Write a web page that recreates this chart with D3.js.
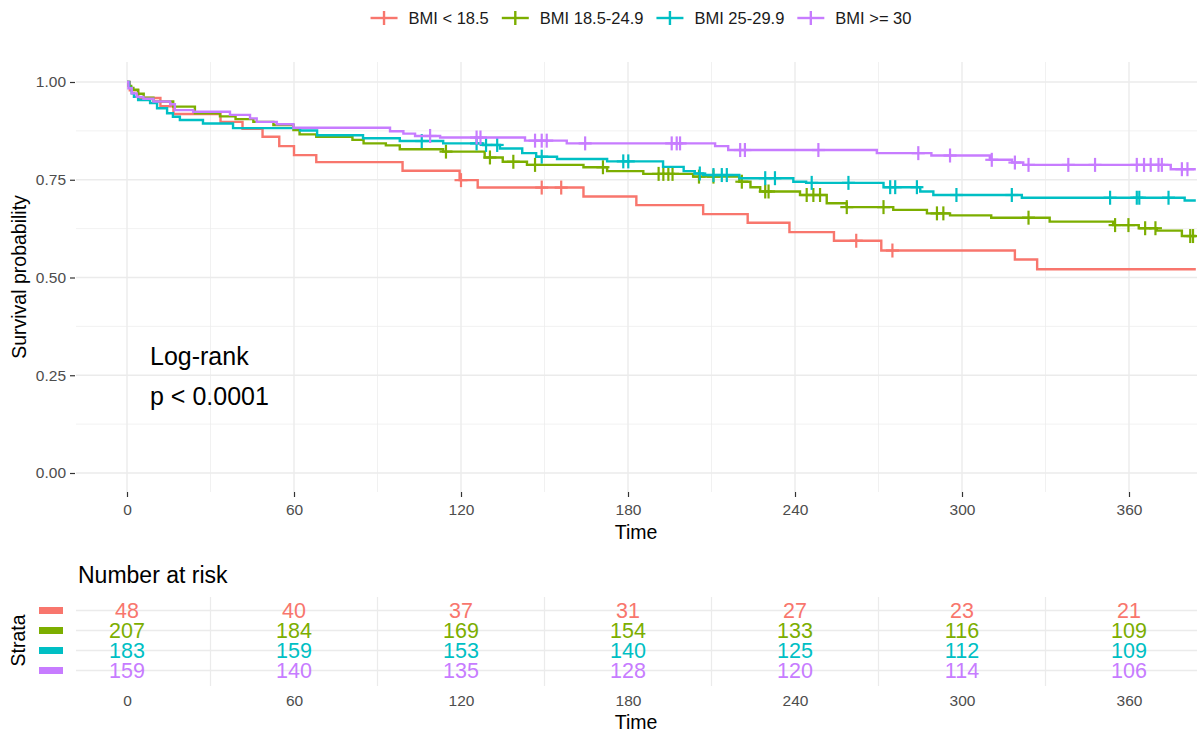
<!DOCTYPE html>
<html>
<head>
<meta charset="utf-8">
<script src="https://cdn.jsdelivr.net/npm/d3@7"></script>
<style>
  body { margin: 0; background: #fff; }
  svg text { font-family: "Liberation Sans", Arial, sans-serif; }
</style>
</head>
<body>
<div class="km"></div>
<script>
// strata and colours
const strata = ["BMI < 18.5", "BMI 18.5-24.9", "BMI 25-29.9", "BMI >= 30"];
const colors = ["#F8766D", "#7CAE00", "#00BFC4", "#C77CFF"];
const lastTime = 384;

// survival steps [time, survival after the step]
const redSteps = [[0,1],[1,0.979],[4,0.959],[12,0.938],[16.7,0.918],[33.6,0.898],[41.5,0.880],[48.7,0.860],[54.7,0.836],[60,0.813],[68,0.795],[99,0.773],[119.5,0.749],[126,0.730],[164,0.707],[183,0.685],[207,0.662],[223,0.640],[238,0.616],[254,0.594],[271,0.569],[319,0.546],[327,0.521]];
const greenSteps = [[0,1],[0.5,0.99],[1.5,0.985],[2.3,0.980],[4,0.97],[6,0.96],[9.5,0.950],[16.6,0.937],[24.4,0.920],[33.4,0.912],[39,0.905],[45.4,0.898],[52.6,0.890],[59.8,0.877],[62,0.866],[68,0.860],[81,0.852],[85,0.843],[93,0.838],[98,0.828],[113.6,0.822],[128.5,0.807],[135,0.796],[143.7,0.788],[164,0.782],[172.5,0.772],[185.5,0.765],[203.4,0.758],[220,0.745],[224,0.731],[227.5,0.720],[241.8,0.711],[251.4,0.690],[258.6,0.680],[275.3,0.673],[287.4,0.664],[295.7,0.659],[310.5,0.653],[331.5,0.643],[354.3,0.634],[363.5,0.626],[370,0.620],[379,0.606]];
const cyanSteps = [[0,1],[0.8,0.985],[1.7,0.971],[2.5,0.962],[4,0.954],[8.3,0.946],[10.8,0.933],[14.4,0.920],[16.5,0.911],[19,0.903],[27.3,0.894],[38.1,0.882],[62.2,0.876],[68.3,0.864],[84.8,0.856],[98,0.849],[113.6,0.843],[128,0.839],[134,0.830],[142,0.818],[147,0.809],[154.5,0.803],[172.5,0.797],[192.6,0.783],[200,0.772],[204,0.766],[207,0.762],[220,0.754],[239.4,0.745],[244,0.742],[271.8,0.731],[285,0.720],[289.7,0.711],[321.5,0.704],[380,0.697]];
const purpleSteps = [[0,1],[0.5,0.984],[1.7,0.971],[3.5,0.962],[5.9,0.957],[9.5,0.950],[15.5,0.943],[17.2,0.928],[23.8,0.924],[37,0.916],[44.2,0.907],[46.6,0.898],[53.8,0.892],[59.8,0.883],[94.5,0.874],[99.3,0.868],[103.5,0.862],[112.5,0.858],[143,0.850],[158,0.843],[211.3,0.836],[216,0.826],[269.4,0.818],[289,0.812],[310,0.801],[318,0.794],[322,0.788],[375,0.777]];

// censoring times
const redCensor = [120, 149, 156, 262, 275];
const greenCensor = [114.6, 130.4, 138.8, 146.6, 171, 191, 192.7, 194.5, 196, 205.5, 210.7, 220.9, 229.3, 230.5, 244.2, 246.6, 249, 258.6, 271.8, 291, 293.3, 323.9, 355, 359.8, 365.8, 369.5, 382, 383];
const cyanCensor = [105.9, 125.6, 129, 133, 149, 178.3, 180.1, 205.8, 210.7, 213.7, 215.5, 229.3, 232.8, 246, 259.2, 274.2, 276, 283.8, 298, 317.9, 353.2, 362.8, 363.7, 374.2];
const purpleCensor = [108.9, 125.6, 127, 146.6, 149, 150.8, 164.6, 195.7, 197.5, 198.7, 220.3, 222, 248.4, 284.3, 295.7, 310.7, 319, 323.9, 338.2, 347.8, 362.8, 365.4, 367.8, 370.6, 371.8, 379, 381];

// ticks and number at risk
const timeTicks = [0, 60, 120, 180, 240, 300, 360];
const survTicks = [0, 0.25, 0.5, 0.75, 1];
const riskRed = [48, 40, 37, 31, 27, 23, 21];
const riskGreen = [207, 184, 169, 154, 133, 116, 109];
const riskCyan = [183, 159, 153, 140, 125, 112, 109];
const riskPurple = [159, 140, 135, 128, 120, 114, 106];

const curves = [
  { name: strata[0], color: colors[0], steps: redSteps, censor: redCensor, risk: riskRed },
  { name: strata[1], color: colors[1], steps: greenSteps, censor: greenCensor, risk: riskGreen },
  { name: strata[2], color: colors[2], steps: cyanSteps, censor: cyanCensor, risk: riskCyan },
  { name: strata[3], color: colors[3], steps: purpleSteps, censor: purpleCensor, risk: riskPurple }
];

const w = 1197, h = 736;
const grid = "#EBEBEB", tickCol = "#4D4D4D";
const panel = { left: 76, right: 1197, top: 62, bottom: 492 };
const table = { top: 597, bottom: 686 };

const svg = d3.select(".km").append("svg").attr("width", w).attr("height", h);

const x = d3.scaleLinear().domain([0, 360]).range([127, 1129]);
const y = d3.scaleLinear().domain([0, 1]).range([473, 82]);

const minorX = d3.range(30, 420, 60).filter(d => x(d) <= panel.right);
const minorY = [0.125, 0.375, 0.625, 0.875];

// ---- main panel grid
const g = svg.append("g");
g.selectAll(".mx").data(minorX).enter().append("line")
  .attr("x1", d => x(d)).attr("x2", d => x(d))
  .attr("y1", panel.top).attr("y2", panel.bottom)
  .attr("stroke", grid).attr("stroke-width", 0.7);
g.selectAll(".my").data(minorY).enter().append("line")
  .attr("x1", panel.left).attr("x2", panel.right)
  .attr("y1", d => y(d)).attr("y2", d => y(d))
  .attr("stroke", grid).attr("stroke-width", 0.7);
g.selectAll(".gx").data(timeTicks).enter().append("line")
  .attr("x1", d => x(d)).attr("x2", d => x(d))
  .attr("y1", panel.top).attr("y2", panel.bottom)
  .attr("stroke", grid).attr("stroke-width", 1.4);
g.selectAll(".gy").data(survTicks).enter().append("line")
  .attr("x1", panel.left).attr("x2", panel.right)
  .attr("y1", d => y(d)).attr("y2", d => y(d))
  .attr("stroke", grid).attr("stroke-width", 1.4);

// axes
const yAxis = svg.append("g").attr("transform", `translate(${panel.left - 1},0)`)
  .call(d3.axisLeft(y).tickValues(survTicks).tickFormat(d3.format(".2f")).tickSize(5).tickPadding(4));
const xAxis = svg.append("g").attr("transform", `translate(0,${panel.bottom})`)
  .call(d3.axisBottom(x).tickValues(timeTicks).tickSize(5).tickPadding(7));
[yAxis, xAxis].forEach(a => {
  a.select(".domain").remove();
  a.selectAll(".tick line").attr("stroke", "#333").attr("stroke-width", 1.2);
  a.selectAll(".tick text").attr("fill", tickCol).style("font-size", "15.5px")
    .style("font-family", '"Liberation Sans", Arial, sans-serif');
});

svg.append("text").attr("x", x(180) + 8).attr("y", 539)
  .attr("text-anchor", "middle").style("font-size", "19.5px").text("Time");
svg.append("text").attr("transform", `translate(26,${(panel.top + panel.bottom) / 2}) rotate(-90)`)
  .attr("text-anchor", "middle").style("font-size", "19.5px").text("Survival probability");

// ---- curves
const stepLine = d3.line().x(d => x(d[0])).y(d => y(d[1])).curve(d3.curveStepAfter);
const survAt = (steps, t) => {
  let s = steps[0][1];
  steps.forEach(d => { if (d[0] <= t) s = d[1]; });
  return s;
};

curves.forEach(c => {
  const pts = c.steps.concat([[lastTime, c.steps[c.steps.length - 1][1]]]);
  svg.append("path").datum(pts)
    .attr("d", stepLine)
    .attr("fill", "none").attr("stroke", c.color).attr("stroke-width", 2.4);
  const marks = svg.append("g").selectAll("g").data(c.censor).enter().append("g")
    .attr("transform", d => `translate(${x(d)},${y(survAt(c.steps, d))})`);
  marks.append("line").attr("x1", -6.5).attr("x2", 6.5).attr("y1", 0).attr("y2", 0)
    .attr("stroke", c.color).attr("stroke-width", 2.2);
  marks.append("line").attr("x1", 0).attr("x2", 0).attr("y1", -7).attr("y2", 7)
    .attr("stroke", c.color).attr("stroke-width", 2.2);
});

// log-rank annotation
svg.append("text").attr("x", 150).attr("y", 365).style("font-size", "25px").text("Log-rank");
svg.append("text").attr("x", 150).attr("y", 405).style("font-size", "25px").text("p < 0.0001");

// ---- legend
const legend = svg.append("g");
let lx = 0;
const items = legend.selectAll("g").data(curves).enter().append("g");
items.append("line").attr("x1", 0).attr("x2", 27).attr("y1", 0).attr("y2", 0)
  .attr("stroke", d => d.color).attr("stroke-width", 2.4);
items.append("line").attr("x1", 13.5).attr("x2", 13.5).attr("y1", -7).attr("y2", 7)
  .attr("stroke", d => d.color).attr("stroke-width", 2.4);
items.append("text").attr("x", 38).attr("dy", "0.36em")
  .style("font-size", "16.5px").attr("fill", "#1a1a1a").text(d => d.name);
items.each(function () {
  const wd = 38 + d3.select(this).select("text").node().getComputedTextLength();
  d3.select(this).attr("transform", `translate(${lx},0)`);
  lx += wd + 13;
});
legend.attr("transform", `translate(${641 - (lx - 13) / 2},18)`);

// ---- number at risk table
svg.append("text").attr("x", 78).attr("y", 583).style("font-size", "23px").text("Number at risk");

const ry = d3.scalePoint().domain(strata).range([610.5, 670.5]);

svg.selectAll(".tmx").data(minorX).enter().append("line")
  .attr("x1", d => x(d)).attr("x2", d => x(d))
  .attr("y1", table.top).attr("y2", table.bottom)
  .attr("stroke", grid).attr("stroke-width", 1.2);
svg.selectAll(".tgy").data(strata).enter().append("line")
  .attr("x1", panel.left).attr("x2", panel.right)
  .attr("y1", d => ry(d)).attr("y2", d => ry(d))
  .attr("stroke", grid).attr("stroke-width", 1.4);

// strata colour keys
svg.selectAll(".key").data(curves).enter().append("rect")
  .attr("x", 39).attr("width", 24)
  .attr("y", d => ry(d.name) - 3.5).attr("height", 7)
  .attr("fill", d => d.color);

curves.forEach(c => {
  svg.append("g").selectAll("text").data(c.risk).enter().append("text")
    .attr("x", (d, i) => x(timeTicks[i]))
    .attr("y", ry(c.name)).attr("dy", "0.36em")
    .attr("text-anchor", "middle").attr("fill", c.color)
    .style("font-size", "21.5px").text(d => d);
});

const tAxis = svg.append("g").attr("transform", `translate(0,${table.bottom})`)
  .call(d3.axisBottom(x).tickValues(timeTicks).tickSize(0).tickPadding(9));
tAxis.select(".domain").remove();
tAxis.selectAll(".tick text").attr("fill", tickCol).style("font-size", "15.5px")
  .style("font-family", '"Liberation Sans", Arial, sans-serif');

svg.append("text").attr("x", x(180) + 8).attr("y", 729)
  .attr("text-anchor", "middle").style("font-size", "19.5px").text("Time");
svg.append("text").attr("transform", `translate(25,${ry(strata[1]) + 10}) rotate(-90)`)
  .attr("text-anchor", "middle").style("font-size", "19.5px").text("Strata");
</script>
</body>
</html>
